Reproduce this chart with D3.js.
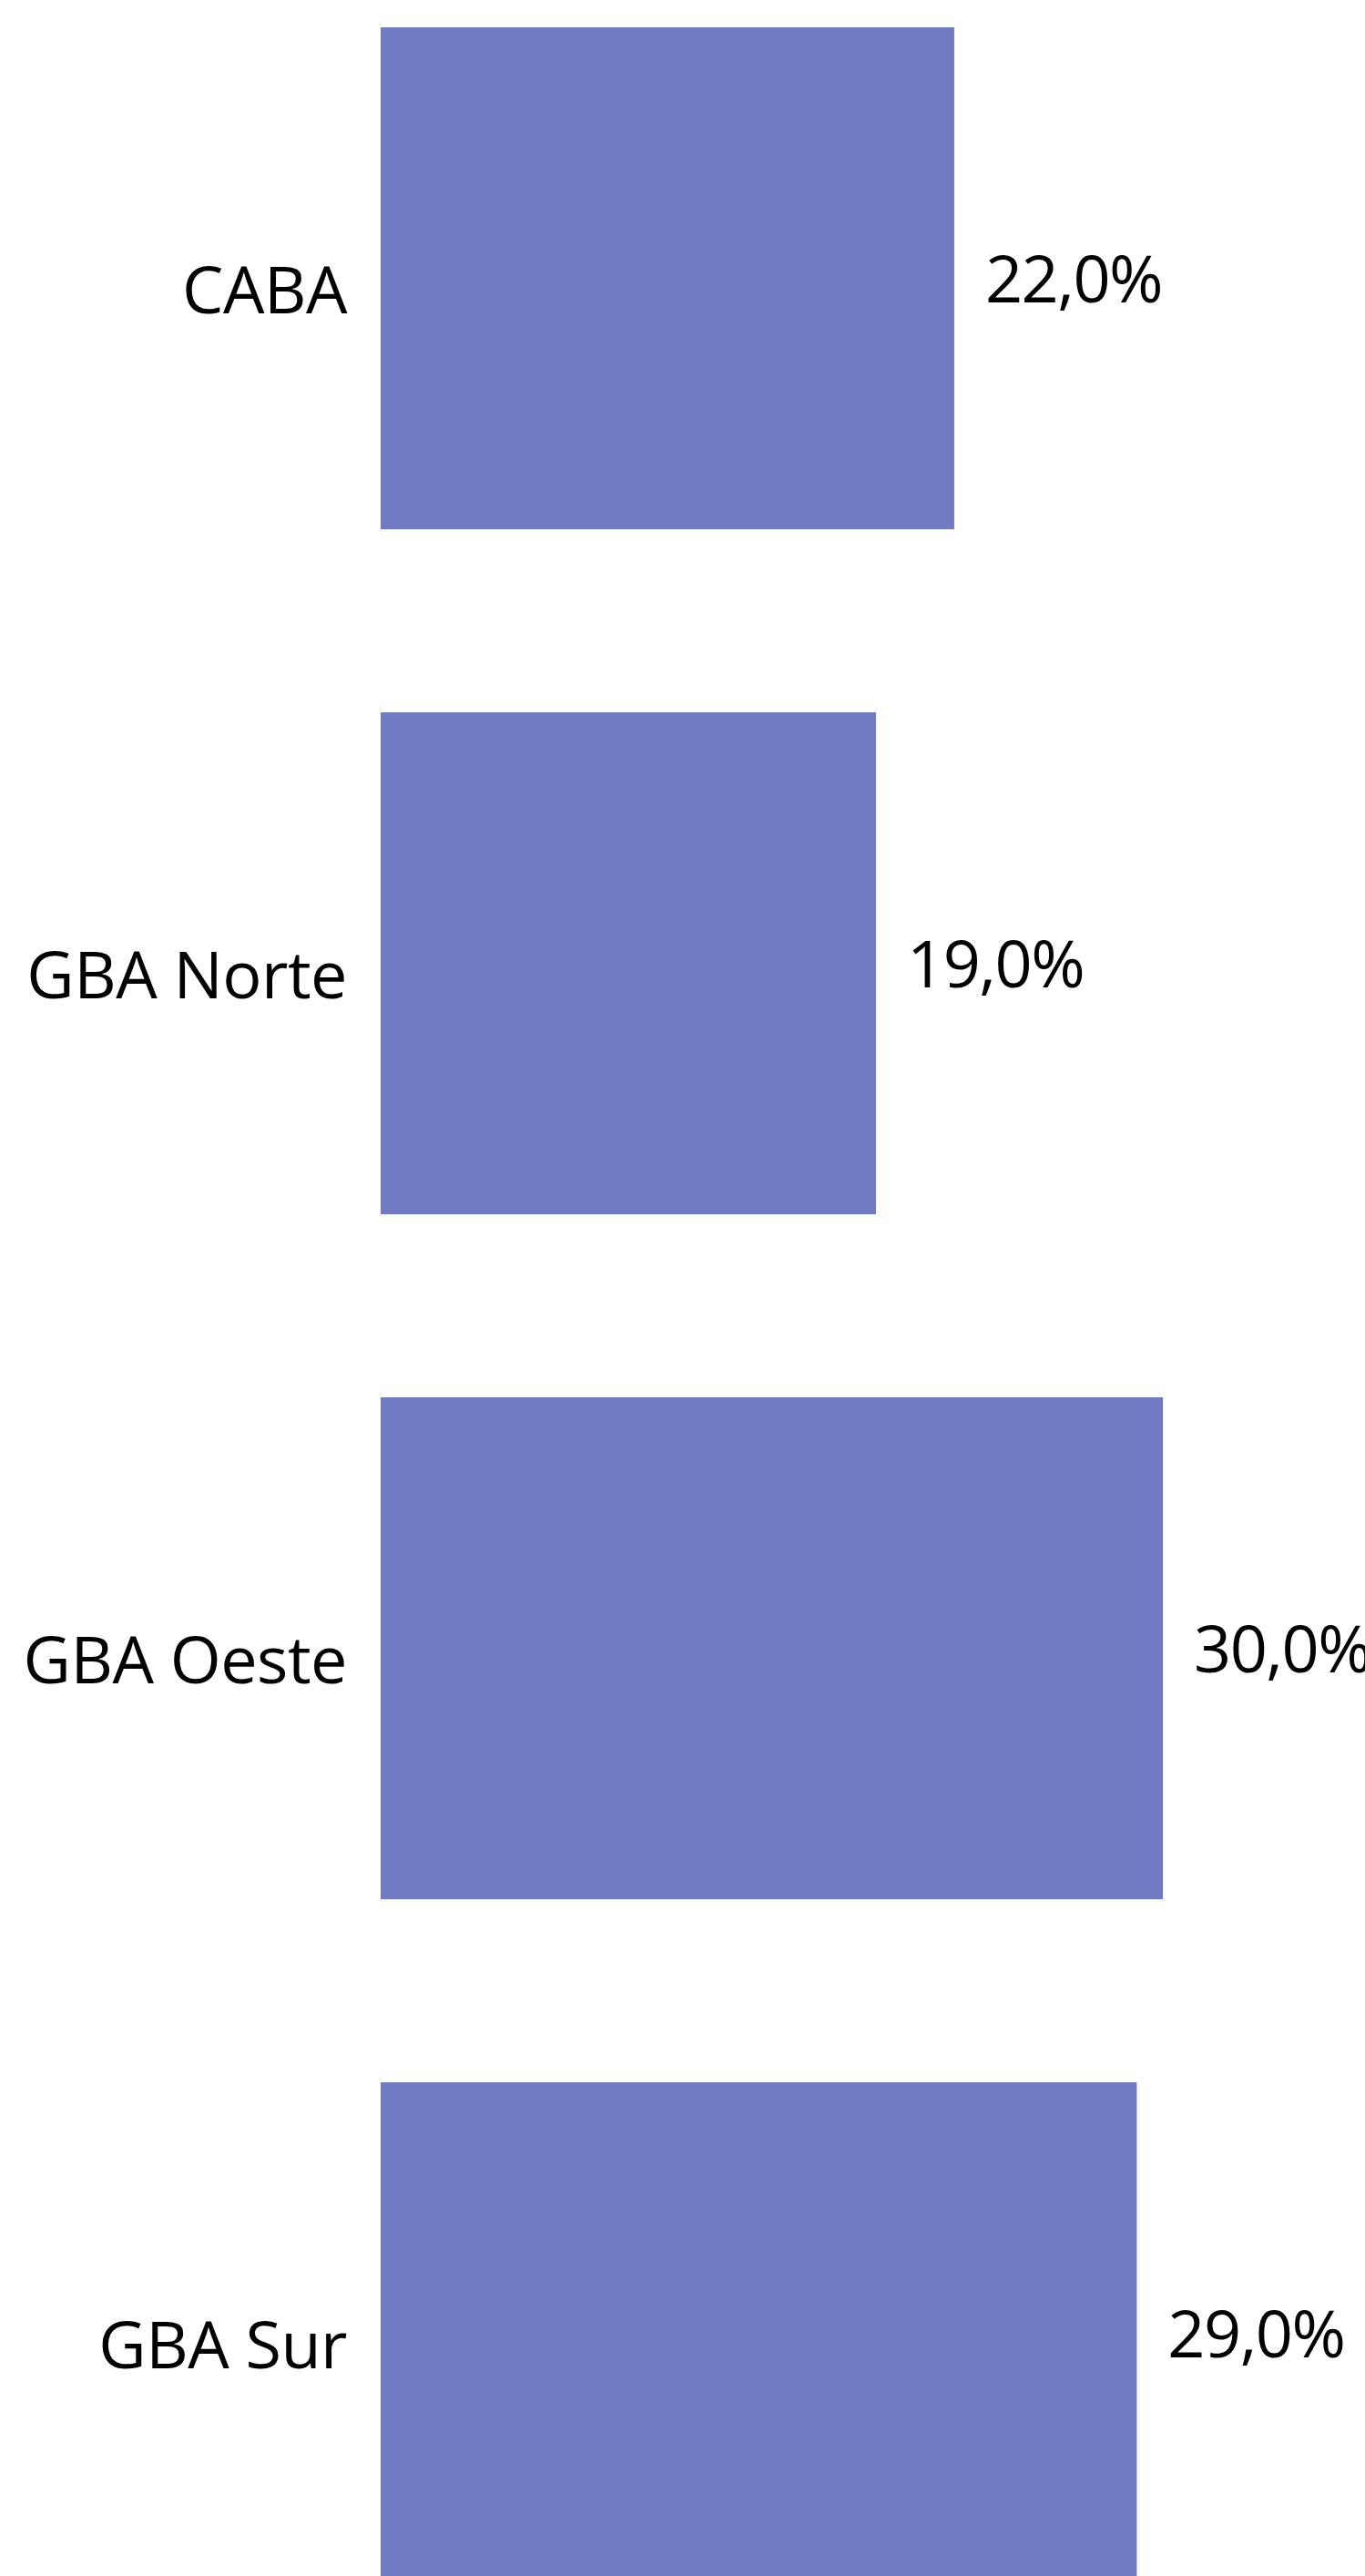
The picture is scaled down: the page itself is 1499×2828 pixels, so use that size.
<!DOCTYPE html>
<html>
<head>
<meta charset="utf-8">
<script src="https://cdn.jsdelivr.net/npm/d3@7"></script>
<style>
  html, body { margin: 0; padding: 0; background: #ffffff; }
  svg { display: block; }
</style>
</head>
<body>
<script>
const categories = ["CABA", "GBA Norte", "GBA Oeste", "GBA Sur"];
const values = [22.0, 19.0, 30.0, 29.0];
const valueLabels = ["22,0%", "19,0%", "30,0%", "29,0%"];

const W = 1499, H = 2828;
const svg = d3.select("body").append("svg").attr("width", W).attr("height", H);

const x = d3.scaleLinear().domain([0, 30]).range([418, 1277]);
const y = d3.scaleBand().domain(categories)
  .range([30, 30 + 752 * 4 - 201])
  .paddingInner(201 / 752).paddingOuter(0);

const data = categories.map((c, i) => ({ c, v: values[i], l: valueLabels[i] }));
const bw = y.bandwidth();

svg.append("g").selectAll("rect").data(data).join("rect")
  .attr("x", x(0))
  .attr("y", d => y(d.c))
  .attr("width", d => x(d.v) - x(0))
  .attr("height", bw)
  .attr("fill", "#717bc3");

const font = "'Open Sans', 'Noto Sans', sans-serif";

svg.append("g").selectAll("text").data(data).join("text")
  .attr("x", 381)
  .attr("y", d => y(d.c) + bw / 2 + 38.5)
  .attr("text-anchor", "end")
  .attr("font-family", font)
  .attr("font-size", 72)
  .attr("letter-spacing", -0.5)
  .attr("fill", "#000")
  .text(d => d.c);

svg.append("g").selectAll("text").data(data).join("text")
  .attr("x", d => x(d.v) + 34)
  .attr("y", d => y(d.c) + bw / 2 + 26.5)
  .attr("text-anchor", "start")
  .attr("font-family", font)
  .attr("font-size", 72)
  .attr("letter-spacing", -1.5)
  .attr("fill", "#000")
  .text(d => d.l);
</script>
</body>
</html>
